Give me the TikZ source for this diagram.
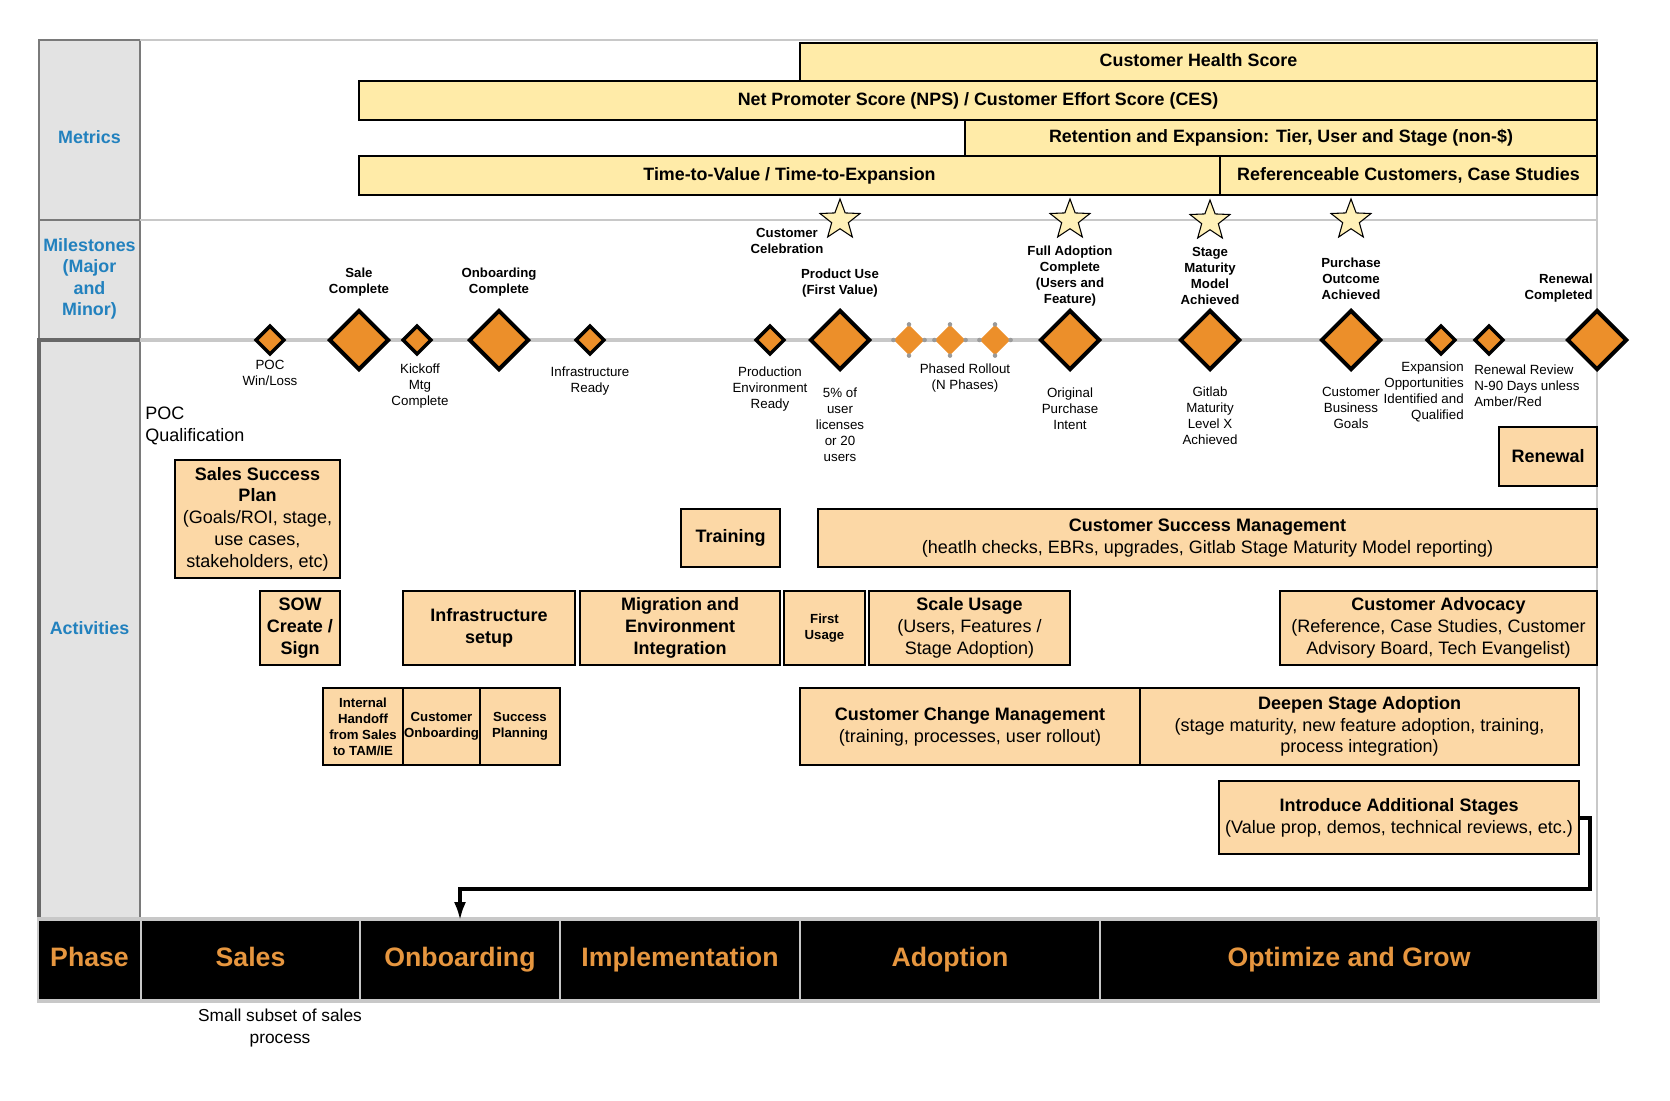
\documentclass[tikz,border=0pt]{standalone}
\usepackage{fontspec}
\setmainfont{Liberation Sans}
\usetikzlibrary{shapes.geometric,arrows.meta}
\definecolor{baryel}{HTML}{FFEBA8}
\definecolor{staryel}{HTML}{FFF1B8}
\definecolor{peach}{HTML}{FCD8A6}
\definecolor{dorange}{HTML}{EC8F2A}
\definecolor{ptext}{HTML}{E6963F}
\definecolor{laneblue}{HTML}{2281BE}
\definecolor{lanegray}{HTML}{E3E3E3}
\definecolor{rulegray}{HTML}{C8C8C8}
\definecolor{colborder}{HTML}{7A7A7A}
\definecolor{dotgray}{HTML}{9A9A9A}
\begin{document}
\begin{tikzpicture}[x=0.75pt,y=-0.75pt,
  boxat/.style args={#1/#2/#3/#4}{rectangle,minimum width={(#3-#1)*0.75pt},minimum height={(#4-#2)*0.75pt},
    at={({(#1+#3)/2},{(#2+#4)/2})}},
  mbar/.style={draw=black,line width=1.9pt,fill=baryel,inner sep=0pt,text height=9.6pt,text depth=2.8pt,
    font=\bfseries\fontsize{13.4}{15}\selectfont},
  act/.style={draw=black,line width=1.9pt,fill=peach,inner sep=0pt,align=center,
    font=\fontsize{13.5}{16.3}\selectfont},
  actsmall/.style={act,font=\bfseries\fontsize{9.9}{12}\selectfont},
  bigdia/.style={diamond,draw=black,line width=3pt,fill=dorange,inner sep=0pt,minimum width=45pt,minimum height=45pt},
  smalldia/.style={diamond,draw=black,line width=2.6pt,fill=dorange,inner sep=0pt,minimum width=22pt,minimum height=22pt},
  phdia/.style={diamond,fill=dorange,inner sep=0pt,minimum width=23pt,minimum height=23pt},
  mstone/.style={align=center,inner sep=0pt,font=\bfseries\fontsize{9.9}{12}\selectfont},
  mnote/.style={align=center,inner sep=0pt,font=\fontsize{10}{12}\selectfont},
  starnode/.style={star,star points=5,star point ratio=2.4,minimum size=31.5pt,inner sep=0pt,draw=black,line width=0.8pt,fill=staryel},
  phasecell/.style={fill=black,inner sep=0pt,text=ptext,text height=14.4pt,text depth=4.2pt,
    font=\bfseries\fontsize{20}{24}\selectfont},
  lanelbl/.style={align=center,inner sep=0pt,text=laneblue,font=\bfseries\fontsize{13.4}{16}\selectfont},
  conn/.style={draw=black,line width=3pt,-{Latex[length=14pt,width=9pt]}}
]
\useasboundingbox (0,0) rectangle (1670,1100);

% ---------- lane column ----------
\fill[lanegray] (39,40) rectangle (140,919);
\draw[colborder,line width=1.5pt] (39,40) rectangle (140,220);
\draw[colborder,line width=1.5pt] (39,220) rectangle (140,340);
\draw[colborder,line width=1.2pt] (140,340) -- (140,919);
\draw[colborder!85!black,line width=2.8pt] (140,340) -- (39,340) -- (39,919) -- (140,919);
\node[lanelbl] (lmet) at (89.5,137) {Metrics};
\node[lanelbl] (lmil) at (89.5,279) {Milestones\\(Major\\and\\Minor)};
\node[lanelbl] (lact) at (89.5,628) {Activities};

% ---------- panel rules ----------
\draw[rulegray,line width=1.5pt] (140,40) -- (1597,40) -- (1597,919);
\draw[rulegray,line width=1.5pt] (140,220) -- (1597,220);
\draw[rulegray,line width=2.5pt] (140,340) -- (1597,340);

% ---------- metrics bars ----------
\node[mbar,boxat=800/43/1597/81] (chs) {Customer Health Score};
\node[mbar,boxat=359/81/1597/120] (nps) {Net Promoter Score (NPS) / Customer Effort Score (CES)};
\node[mbar,boxat=965/120/1597/156] (ret) {Retention and Expansion: Tier, User and Stage (non-\$)};
\node[mbar,boxat=359/156/1220/195] (ttv) {Time-to-Value / Time-to-Expansion};
\node[mbar,boxat=1220/156/1597/195] (refc) {Referenceable Customers, Case Studies};

% ---------- stars ----------
\node[starnode] (st1) at (840,220) {};
\node[starnode] (st2) at (1070,220) {};
\node[starnode] (st3) at (1210,221) {};
\node[starnode] (st4) at (1351,220) {};

% ---------- diamonds ----------
\node[smalldia] (d1) at (270,340) {};
\node[bigdia] (d2) at (359,340) {};
\node[smalldia] (d3) at (417,340) {};
\node[bigdia] (d4) at (499,340) {};
\node[smalldia] (d5) at (590,340) {};
\node[smalldia] (d6) at (770,340) {};
\node[bigdia] (d7) at (840,340) {};
\foreach \n/\xx in {p1/909,p2/950,p3/995}{
  \node[phdia] (\n) at (\xx,340) {};
  \fill[dotgray] (\n.north) circle[radius=1.7pt] (\n.south) circle[radius=1.7pt]
                 (\n.east) circle[radius=1.7pt] (\n.west) circle[radius=1.7pt];
}
\node[bigdia] (d8) at (1070,340) {};
\node[bigdia] (d9) at (1210,340) {};
\node[bigdia] (d10) at (1351,340) {};
\node[smalldia] (d11) at (1441,340) {};
\node[smalldia] (d12) at (1489,340) {};
\node[bigdia] (d13) at (1597,340) {};

% ---------- milestone labels ----------
\node[mstone] (m2) at (359,282) {Sale\\Complete};
\node[mstone] (m4) at (499,282) {Onboarding\\Complete};
\node[mstone] (mc) at (787,241) {Customer\\Celebration};
\node[mstone] (m7) at (840,283) {Product Use\\(First Value)};
\node[mstone] (m8) at (1070,276) {Full Adoption\\Complete\\(Users and\\Feature)};
\node[mstone] (m9) at (1210,276) {Stage\\Maturity\\Model\\Achieved};
\node[mstone] (m10) at (1351,279) {Purchase\\Outcome\\Achieved};
\node[mstone,align=right,anchor=east] (m13) at (1593,288) {Renewal\\Completed};

\node[mnote] (n1) at (270,373) {POC\\Win/Loss};
\node[mnote] (n3) at (420,386) {Kickoff\\Mtg\\Complete};
\node[mnote] (n5) at (590,381) {Infrastructure\\Ready};
\node[mnote] (n6) at (770,389) {Production\\Environment\\Ready};
\node[mnote] (n7) at (840,425) {5\% of\\user\\licenses\\or 20\\users};
\node[mnote] (np) at (965,378) {Phased Rollout\\(N Phases)};
\node[mnote] (n8) at (1070,409) {Original\\Purchase\\Intent};
\node[mnote] (n9) at (1210,416) {Gitlab\\Maturity\\Level X\\Achieved};
\node[mnote] (n10) at (1351,408) {Customer\\Business\\Goals};
\node[mnote,align=right,anchor=east] (n11) at (1464,392) {Expansion\\Opportunities\\Identified and\\Qualified};
\node[mnote,align=left,anchor=west] (n12) at (1474,386) {Renewal Review\\N-90 Days unless\\Amber/Red};

\node[align=left,anchor=west,inner sep=0pt,font=\fontsize{13.5}{16.5}\selectfont] (pocq) at (145,426) {POC\\Qualification};

% ---------- activities ----------
\node[act,boxat=175/460/340/578] (ssp) {\textbf{Sales Success}\\\textbf{Plan}\\(Goals/ROI, stage,\\use cases,\\stakeholders, etc)};
\node[act,boxat=260/591/340/665] (sow) {\textbf{SOW}\\\textbf{Create /}\\\textbf{Sign}};
\node[act,boxat=403/591/575/665] (infra) {\textbf{Infrastructure}\\\textbf{setup}};
\node[act,boxat=580/591/780/665] (migr) {\textbf{Migration and}\\\textbf{Environment}\\\textbf{Integration}};
\node[actsmall,boxat=784/591/865/665] (first) {First\\Usage};
\node[act,boxat=869/591/1070/665] (scale) {\textbf{Scale Usage}\\(Users, Features /\\Stage Adoption)};
\node[act,boxat=1280/591/1597/665] (adv) {\textbf{Customer Advocacy}\\(Reference, Case Studies, Customer\\Advisory Board, Tech Evangelist)};
\node[act,boxat=681/509/780/567] (train) {\textbf{Training}};
\node[act,boxat=818/509/1597/567] (csm) {\textbf{Customer Success Management}\\(heatlh checks, EBRs, upgrades, Gitlab Stage Maturity Model reporting)};
\node[act,boxat=1499/427/1597/486] (renew) {\textbf{Renewal}};
\node[actsmall,boxat=323/688/403/765] (handoff) {Internal\\Handoff\\from Sales\\to TAM/IE};
\node[actsmall,boxat=403/688/480/765] (custonb) {Customer\\Onboarding};
\node[actsmall,boxat=480/688/560/765] (succ) {Success\\Planning};
\node[act,boxat=800/688/1140/765] (ccm) {\textbf{Customer Change Management}\\(training, processes, user rollout)};
\node[act,boxat=1140/688/1579/765] (deep) {\textbf{Deepen Stage Adoption}\\(stage maturity, new feature adoption, training,\\process integration)};
\node[act,boxat=1219/781/1579/854] (intro) {\textbf{Introduce Additional Stages}\\(Value prop, demos, technical reviews, etc.)};

% ---------- phase bar ----------
\fill[rulegray] (37,917) rectangle (1600,1003);
\node[phasecell,boxat=39/921/140/999] (php) {Phase};
\node[phasecell,boxat=142/921/359/999] (phs) {Sales};
\node[phasecell,boxat=361/921/559/999] (pho) {Onboarding};
\node[phasecell,boxat=561/921/799/999] (phi) {Implementation};
\node[phasecell,boxat=801/921/1099/999] (pha) {Adoption};
\node[phasecell,boxat=1101/921/1597/999] (phg) {Optimize and Grow};

\node[align=center,inner sep=0pt,font=\fontsize{13}{16}\selectfont] (subset) at (280,1028) {Small subset of sales\\process};

% ---------- connector ----------
\coordinate (turn) at (1590,889);
\draw[conn] (intro.east) -| (turn) -| (pho.north);

\end{tikzpicture}
\end{document}
